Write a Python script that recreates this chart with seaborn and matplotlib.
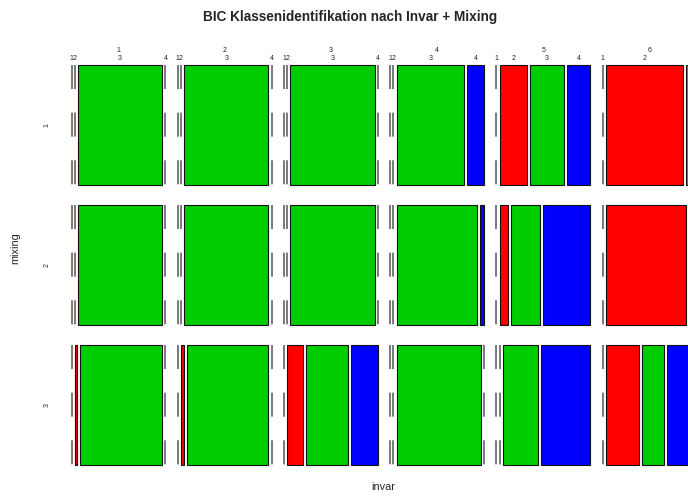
import numpy as np
import matplotlib
matplotlib.use("Agg")
import matplotlib.pyplot as plt
import seaborn as sns

# ---- data (counts per class 1..4 for each mixing level, per invar level) ----
invar_levels = ["1", "2", "3", "4", "5", "6"]
mixing_levels = ["1", "2", "3"]
class_levels = ["1", "2", "3", "4"]
class_colors = ["#000000", "#FF0000", "#00CD00", "#0000FF"]

invar_1 = [[0, 0, 100, 0], [0, 0, 100, 0], [0, 3, 97, 0]]
invar_2 = [[0, 0, 100, 0], [0, 0, 100, 0], [0, 3, 97, 0]]
invar_3 = [[0, 0, 100, 0], [0, 0, 100, 0], [0, 19, 49, 32]]
invar_4 = [[0, 0, 80, 20], [0, 0, 95, 5], [0, 0, 100, 0]]
invar_5 = [[0, 32, 41, 27], [0, 10, 34, 56], [0, 0, 42, 58]]
invar_6 = [[0, 91, 9, 0], [0, 95, 3, 2], [0, 39, 26, 35]]

title = "BIC Klassenidentifikation nach Invar + Mixing"
xlabel = "invar"
ylabel = "mixing"

counts = np.array([invar_1, invar_2, invar_3, invar_4, invar_5, invar_6], dtype=float)

sns.set_theme(style="white")
plt.rcParams["font.family"] = ["Liberation Sans", "DejaVu Sans"]
plt.rcParams["lines.scale_dashes"] = False

fig = plt.figure(figsize=(6.88, 4.97), dpi=100)
ax = fig.add_axes([0, 0, 1, 1])
ax.set_xlim(0, 688)
ax.set_ylim(497, 0)
ax.axis("off")

# mosaic extent (canvas units) and spacing as in R mosaicplot (off = 10%)
X1, X2 = 71.7, 696.4
Y1, Y2 = 65.0, 465.0
OFF = 0.10


def split(lo, hi, props):
    n = len(props)
    white = OFF * (hi - lo) / max(1, n - 1)
    out = []
    pos = lo
    for p in props:
        w = (1 - OFF) * p * (hi - lo)
        out.append((pos, pos + w))
        pos = pos + w + white
    return out


total = counts.sum()
col_props = counts.sum(axis=(1, 2)) / total
cols = split(X1, X2, col_props)

small = 5.0
for i, (cx1, cx2) in enumerate(cols):
    ax.text((cx1 + cx2) / 2, 50, invar_levels[i], ha="center", va="center",
            fontsize=small, color="#222222")
    row_props = counts[i].sum(axis=1) / counts[i].sum()
    rows = split(Y1, Y2, row_props)
    for j, (ry1, ry2) in enumerate(rows):
        if i == 0:
            ax.text(47, (ry1 + ry2) / 2, mixing_levels[j], ha="center", va="center",
                    rotation=90, fontsize=small, color="#222222")
        cls_props = counts[i, j] / counts[i, j].sum()
        tiles = split(cx1, cx2, cls_props)
        for k, (tx1, tx2) in enumerate(tiles):
            if counts[i, j, k] > 0:
                ax.bar(tx1, ry2 - ry1, width=tx2 - tx1, bottom=ry1, align="edge",
                       color=class_colors[k], edgecolor="#111111", linewidth=0.8)
            else:
                ax.plot([tx1, tx1], [ry1, ry2], color="#555555", linewidth=1.1,
                        linestyle=(0, (17.3, 17.0)), solid_capstyle="butt",
                        dash_capstyle="butt")
            if j == 0:
                ax.text((tx1 + tx2) / 2, 58, class_levels[k], ha="center", va="center",
                        fontsize=small, color="#222222")

ax.text(350, 17, title, ha="center", va="center", fontsize=9.8, fontweight="bold")
ax.text(383, 487, xlabel, ha="center", va="center", fontsize=7.8)
ax.text(15, 248, ylabel, ha="center", va="center", rotation=90, fontsize=7.8)

fig.savefig("out.png", dpi=100)
